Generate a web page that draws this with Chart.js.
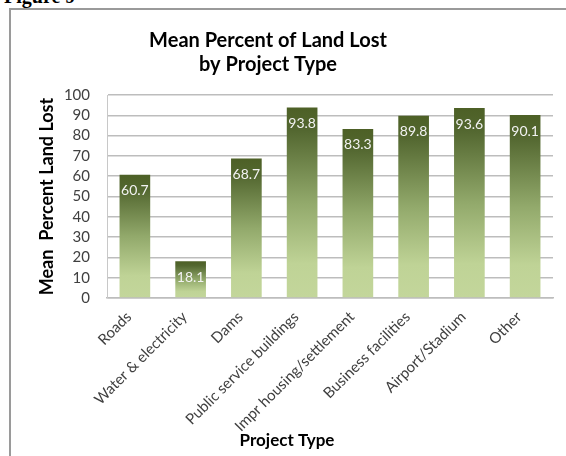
<!DOCTYPE html>
<html>
<head>
<meta charset="utf-8">
<script src="https://cdn.jsdelivr.net/npm/chart.js@4/dist/chart.umd.min.js"></script>
<style>
  html, body { margin: 0; padding: 0; background: #fff; width: 566px; height: 456px; overflow: hidden; }
  #fig { position: absolute; left: 4px; top: -15px; font: bold 20px "Liberation Serif", serif; color: #000; }
  #frame { position: absolute; left: 9px; top: 8px; width: 620px; height: 520px; border-left: 2px solid #9a9a9a; border-top: 2px solid #9a9a9a; }
  #wrap { position: absolute; left: 0; top: 0; width: 566px; height: 456px; }
</style>
</head>
<body>
<div id="fig">Figure 9</div>
<div id="frame"></div>
<div id="wrap"><canvas id="c" width="566" height="456"></canvas></div>
<script>
const categories = ["Roads", "Water & electricity", "Dams", "Public service buildings", "Impr housing/settlement", "Business facilities", "Airport/Stadium", "Other"];
const meanPercentLost = [60.7, 18.1, 68.7, 93.8, 83.3, 89.8, 93.6, 90.1];
const yTicks = [0, 10, 20, 30, 40, 50, 60, 70, 80, 90, 100];
const titleLines = ["Mean Percent of Land Lost", "by Project Type"];
const yAxisTitle = "Mean  Percent Land Lost";
const xAxisTitle = "Project Type";

const FONT = "Lato, 'Open Sans', sans-serif";

function barGradient(ctx) {
  const chart = ctx.chart;
  if (!chart.chartArea || ctx.type !== 'data') return '#8aa060';
  const ys = chart.scales.y;
  const top = ys.getPixelForValue(ctx.raw);
  const bottom = ys.getPixelForValue(0);
  const g = chart.ctx.createLinearGradient(0, top, 0, bottom);
  g.addColorStop(0, '#4d6026');
  g.addColorStop(0.12, '#536730');
  g.addColorStop(0.5, '#92a96b');
  g.addColorStop(0.82, '#bfd396');
  g.addColorStop(1, '#c3d69b');
  return g;
}

const titlePlugin = {
  id: 'customTitles',
  afterDraw(chart) {
    const c = chart.ctx;
    c.save();
    c.fillStyle = '#000';
    c.textAlign = 'center';
    c.textBaseline = 'alphabetic';
    c.font = "bold 20px " + FONT;
    c.fillText(titleLines[0], 268, 47);
    c.fillText(titleLines[1], 268, 71);
    c.font = "bold 17px " + FONT;
    c.fillText(xAxisTitle, 287, 446);
    c.restore();
  }
};

const labelPlugin = {
  id: 'barLabels',
  afterDatasetsDraw(chart) {
    const c = chart.ctx;
    const meta = chart.getDatasetMeta(0);
    c.save();
    c.font = "14px " + FONT;
    c.fillStyle = '#f2f2f2';
    c.textAlign = 'center';
    c.textBaseline = 'middle';
    meta.data.forEach((bar, i) => {
      c.fillText(meanPercentLost[i].toFixed(1), bar.x, bar.y + 16);
    });
    c.restore();
  }
};

new Chart(document.getElementById('c'), {
  type: 'bar',
  data: {
    labels: categories,
    datasets: [{
      data: meanPercentLost,
      backgroundColor: barGradient,
      borderWidth: 0,
      categoryPercentage: 1.0,
      barPercentage: 0.55
    }]
  },
  options: {
    responsive: false,
    animation: false,
    events: [],
    layout: { padding: { top: 95, right: 13, left: 0, bottom: 0 } },
    plugins: {
      legend: { display: false },
      title: { display: false },
      tooltip: { enabled: false }
    },
    scales: {
      x: {
        grid: { display: false, drawTicks: false },
        border: { display: true, color: '#bdbdbd', width: 1.5 },
        ticks: {
          color: '#404040',
          font: { family: FONT, size: 15 },
          minRotation: 45,
          maxRotation: 45,
          padding: 10,
          labelOffset: -6,
          autoSkip: false
        },
        afterFit(s) { s.height = 158; }
      },
      y: {
        min: 0,
        max: 100,
        afterBuildTicks(s) { s.ticks = yTicks.map(v => ({ value: v })); },
        grid: { color: '#bdbdbd', lineWidth: 1.5, drawTicks: false },
        border: { display: true, color: '#c8c8c8', width: 1 },
        ticks: {
          color: '#404040',
          font: { family: FONT, size: 15 },
          padding: 17,
          autoSkip: false
        },
        title: {
          display: true,
          text: yAxisTitle,
          color: '#000',
          font: { family: FONT, size: 18, weight: 'bold' },
          padding: { top: 36, bottom: 0 }
        },
        afterFit(s) { s.width = 107; }
      }
    }
  },
  plugins: [titlePlugin, labelPlugin]
});
</script>
</body>
</html>
